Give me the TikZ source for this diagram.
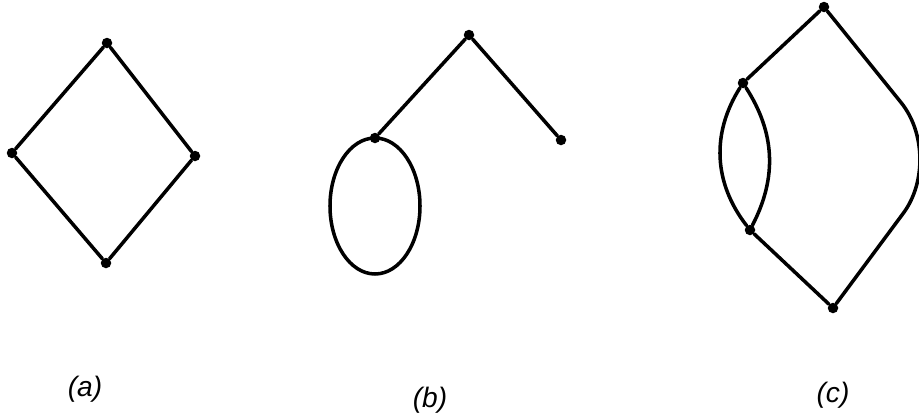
\documentclass[tikz,border=0pt]{standalone}
\usepackage{fontspec}
\setmainfont{Liberation Sans}

\begin{document}
\begin{tikzpicture}[
    x=1cm,
    y=1cm,
    font=\fontsize{16}{19}\selectfont\itshape,
    vertex/.style={circle, fill=black, inner sep=0pt, minimum size=0.21cm},
    edgeline/.style={draw=black, line width=2pt, line cap=round},
    caption/.style={inner sep=0pt}
]
\useasboundingbox (0,0) rectangle (18.38,8.36);

% (a) four vertices forming a cycle
\node[vertex] (a1) at (2.14,7.50) {};
\node[vertex] (a2) at (0.24,5.30) {};
\node[vertex] (a3) at (3.90,5.24) {};
\node[vertex] (a4) at (2.12,3.10) {};
\draw[edgeline] (a1) -- (a2) -- (a4) -- (a3) -- (a1);

% (b) tree with a loop at one vertex
\node[vertex] (b1) at (9.38,7.66) {};
\node[vertex] (b2) at (7.50,5.60) {};
\node[vertex] (b3) at (11.22,5.56) {};
\draw[edgeline] (b2) -- (b1) -- (b3);
\draw[edgeline] (b2.center) ++(0,-1.36) ellipse [x radius=0.90, y radius=1.36];

% (c) multiple edges between the two left vertices
\node[vertex] (c1) at (16.48,8.22) {};
\node[vertex] (c2) at (14.86,6.70) {};
\node[vertex] (c3) at (15.00,3.76) {};
\node[vertex] (c4) at (16.66,2.20) {};
\coordinate (cR) at (18.90,5.22);
\draw[edgeline] (c1) -- (c2);
\draw[edgeline] (c3) -- (c4);
\draw[edgeline] (c2) to[bend right=35] (c3);
\draw[edgeline] (c2) to[bend left=30] (c3);
\draw[edgeline, rounded corners=1.4cm] (c1) -- (cR) -- (c4);

\node[caption] (capA) at (1.70,0.58) {(a)};
\node[caption] (capB) at (8.60,0.36) {(b)};
\node[caption] (capC) at (16.66,0.46) {(c)};
\end{tikzpicture}
\end{document}
